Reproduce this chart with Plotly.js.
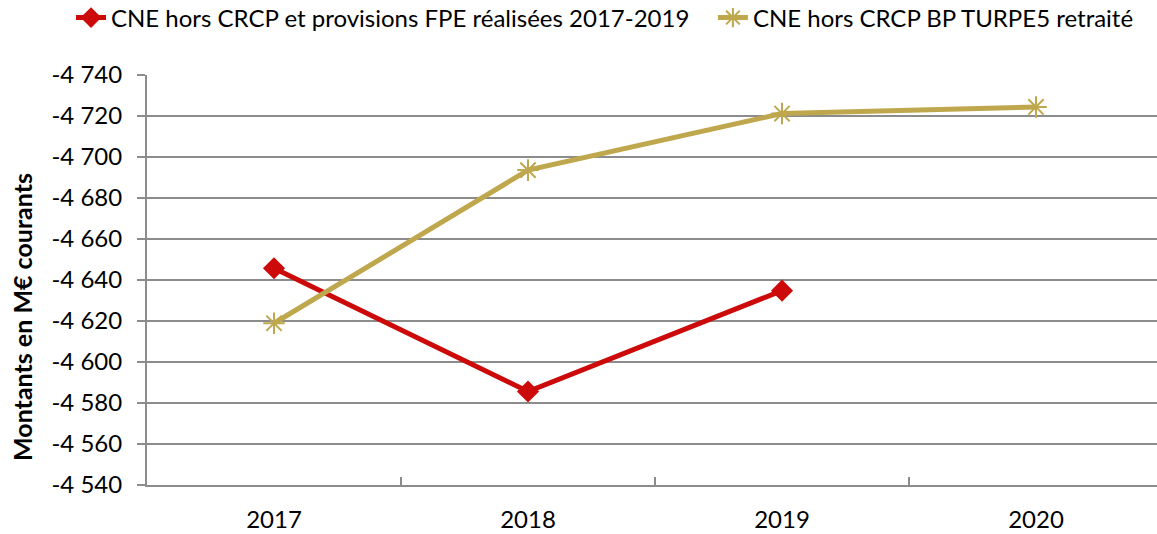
<!DOCTYPE html>
<html>
<head>
<meta charset="utf-8">
<script src="https://cdn.plot.ly/plotly-3.0.1.min.js"></script>
<style>
html,body{margin:0;padding:0;overflow:hidden;background:#fff;}
#chart{width:1165px;height:534px;}
</style>
</head>
<body>
<div id="chart"></div>
<script>
const years = ["2017", "2018", "2019", "2020"];
const seriesRealName = "CNE hors CRCP et provisions FPE réalisées 2017-2019";
const seriesRealValues = [-4645.7, -4585.6, -4634.8, null];
const seriesBPName = "CNE hors CRCP BP TURPE5 retraité";
const seriesBPValues = [-4618.9, -4693.6, -4721.2, -4724.4];
const yTickVals = [-4740, -4720, -4700, -4680, -4660, -4640, -4620, -4600, -4580, -4560, -4540];
const yTickLabels = ["-4 740", "-4 720", "-4 700", "-4 680", "-4 660", "-4 640", "-4 620", "-4 600", "-4 580", "-4 560", "-4 540"];
const yTitle = "Montants en M€ courants";

const font = "Lato, 'Open Sans', sans-serif";
const red = "#CC0A0A";
const gold = "#BFA74E";
const fs = 24;

const traces = [
  {
    x: years, y: seriesRealValues, name: seriesRealName, type: "scatter", mode: "lines+markers",
    line: {color: red, width: 5}, marker: {symbol: "diamond", size: 17, color: red},
    connectgaps: false, legend: "legend"
  },
  {
    x: years, y: seriesBPValues, name: seriesBPName, type: "scatter", mode: "lines+markers",
    line: {color: gold, width: 5},
    marker: {symbol: "asterisk", size: 18, color: gold, line: {color: gold, width: 2}},
    legend: "legend2"
  }
];

const layout = {
  width: 1165, height: 534,
  margin: {l: 147, r: 2, t: 75, b: 49, autoexpand: false},
  paper_bgcolor: "#fff", plot_bgcolor: "#fff",
  font: {family: font, size: fs, color: "#000"},
  showlegend: true,
  legend: {
    orientation: "h", x: -0.0748, y: 1.139, xanchor: "left", yanchor: "middle",
    font: {family: font, size: fs, color: "#000"}, bgcolor: "rgba(0,0,0,0)"
  },
  legend2: {
    orientation: "h", x: 0.557, y: 1.139, xanchor: "left", yanchor: "middle",
    font: {family: font, size: fs, color: "#000"}, bgcolor: "rgba(0,0,0,0)"
  },
  xaxis: {
    type: "category", range: [-0.5, 3.5],
    showgrid: false, zeroline: false,
    showline: true, linecolor: "#8c8c8c", linewidth: 2,
    ticks: "inside", tickson: "boundaries", ticklen: 8, tickcolor: "#8c8c8c", tickwidth: 2,
    tickfont: {family: font, size: fs, color: "#000"},
    ticklabelstandoff: 12,
    fixedrange: true
  },
  yaxis: {
    range: [-4540, -4740], autorange: false,
    tickvals: yTickVals, ticktext: yTickLabels,
    showgrid: true, gridcolor: "#8c8c8c", gridwidth: 2,
    zeroline: false,
    showline: true, linecolor: "#8c8c8c", linewidth: 2,
    ticks: "outside", ticklen: 8, tickcolor: "#8c8c8c", tickwidth: 2,
    tickfont: {family: font, size: fs, color: "#000"},
    ticklabelstandoff: 10,
    fixedrange: true
  },
  annotations: [{
    text: yTitle, textangle: -90, showarrow: false,
    xref: "paper", yref: "paper", x: -0.123, y: 0.41, xanchor: "center", yanchor: "middle",
    font: {family: font, size: 25, color: "#000", weight: "bold"}
  }]
};

Plotly.newPlot("chart", traces, layout, {displayModeBar: false, staticPlot: true});
</script>
</body>
</html>
